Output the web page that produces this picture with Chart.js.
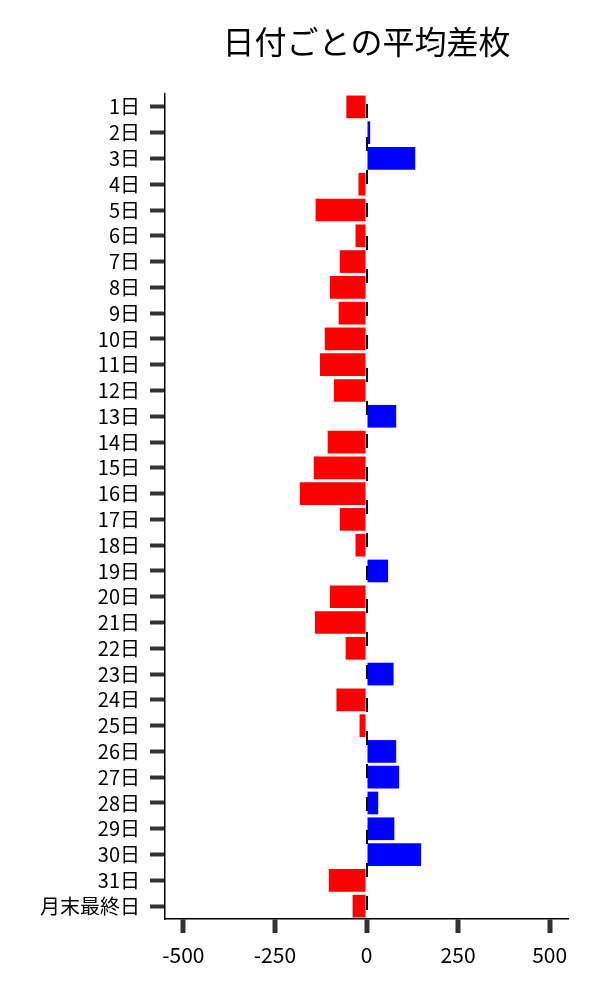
<!DOCTYPE html>
<html>
<head>
<meta charset="utf-8">
<script src="https://cdn.jsdelivr.net/npm/chart.js@4"></script>
<style>
  html, body { margin: 0; padding: 0; background: #fff; }
  #wrap { width: 600px; height: 1000px; }
</style>
</head>
<body>
<div id="wrap"><canvas id="chartDiff"></canvas></div>
<script>
const chartTitle = "日付ごとの平均差枚";
const dayLabels = ["1日", "2日", "3日", "4日", "5日", "6日", "7日", "8日", "9日", "10日",
    "11日", "12日", "13日", "14日", "15日", "16日", "17日", "18日", "19日", "20日",
    "21日", "22日", "23日", "24日", "25日", "26日", "27日", "28日", "29日", "30日",
    "31日", "月末最終日"];
const avgDiff = [-55, 10, 133, -22, -139, -30, -73, -100, -76, -114,
    -127, -89, 81, -106, -144, -182, -73, -30, 59, -100,
    -141, -57, 74, -82, -19, 81, 89, 32, 76, 149,
    -103, -38];
const xTicks = [-500, -250, 0, 250, 500];

const fontFamily = "'Noto Sans CJK JP', 'Noto Sans', sans-serif";

// title centred over the plot area rather than the whole canvas
const titlePlugin = {
    id: "plotTitle",
    afterDraw(chart) {
        const { ctx, chartArea } = chart;
        ctx.save();
        ctx.font = `32px ${fontFamily}`;
        ctx.fillStyle = "#000";
        ctx.textAlign = "center";
        ctx.textBaseline = "middle";
        ctx.fillText(chartTitle, (chartArea.left + chartArea.right) / 2, 42);
        ctx.restore();
    }
};

document.addEventListener("DOMContentLoaded", () => {
    const ctx = document.getElementById("chartDiff").getContext("2d");

    new Chart(ctx, {
        type: "bar",
        data: {
            labels: dayLabels,
            datasets: [{
                label: "平均差枚",
                data: avgDiff,
                backgroundColor: c => c.raw < 0 ? "#ff0000" : "#0000ff",
                borderWidth: 0,
                barPercentage: 0.88,
                categoryPercentage: 1
            }]
        },
        options: {
            indexAxis: "y",
            responsive: true,
            maintainAspectRatio: false,
            animation: false,
            layout: { padding: { top: 94, right: 32, bottom: 0, left: 0 } },
            scales: {
                x: {
                    min: -550,
                    max: 550,
                    afterBuildTicks: s => { s.ticks = xTicks.map(v => ({ value: v })); },
                    afterFit: s => { s.height = 81; },
                    grid: {
                        drawOnChartArea: true,
                        color: c => c.tick && c.tick.value === 0 ? "#000" : "transparent",
                        lineWidth: 2,
                        tickColor: "#333",
                        tickWidth: 5,
                        tickLength: 14
                    },
                    border: { display: true, color: "#000", width: 1.5, dash: [14, 19], dashOffset: -10 },
                    ticks: {
                        color: "#000",
                        padding: 9,
                        font: { family: fontFamily, size: 21 }
                    }
                },
                y: {
                    afterFit: s => { s.width = 165; },
                    grid: {
                        offset: false,
                        drawOnChartArea: false,
                        tickColor: "#333",
                        tickWidth: 4,
                        tickLength: 15
                    },
                    border: { display: true, color: "#000", width: 1.5 },
                    ticks: {
                        color: "#000",
                        padding: 10,
                        autoSkip: false,
                        font: { family: fontFamily, size: 20 }
                    }
                }
            },
            plugins: {
                legend: { display: false },
                title: { display: false },
                tooltip: { enabled: false }
            }
        },
        plugins: [titlePlugin]
    });
});
</script>
</body>
</html>
